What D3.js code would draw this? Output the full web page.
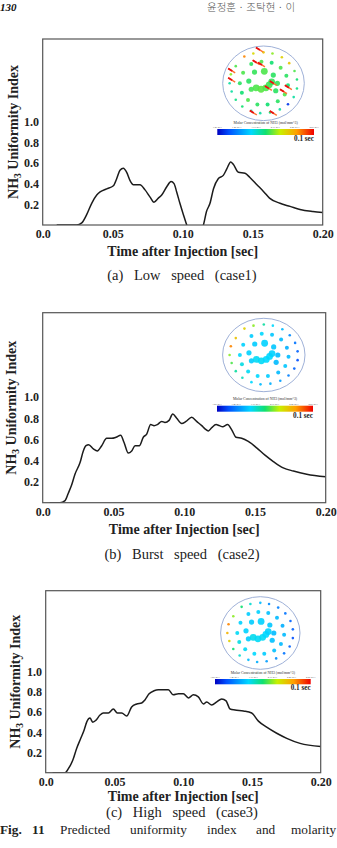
<!DOCTYPE html>
<html>
<head>
<meta charset="utf-8">
<script src="https://cdn.jsdelivr.net/npm/d3@7"></script>
<style>
  body { margin: 0; background: #fff; }
  svg { display: block; }
</style>
</head>
<body>
<div id="fig"></div>
<script>
// ---- data ----
var timeTicks = [0, 0.05, 0.10, 0.15, 0.20];
var timeLabels = ["0.0", "0.05", "0.10", "0.15", "0.20"];
var indexTicks = [0.2, 0.4, 0.6, 0.8, 1.0];
var indexLabels = ["0.2", "0.4", "0.6", "0.8", "1.0"];

// [time (s), NH3 uniformity index]
var case1 = [[0.010,0],[0.0243,0],[0.0279,0.02],[0.0314,0.10],[0.035,0.21],[0.0386,0.29],[0.041,0.32],
  [0.0457,0.35],[0.0505,0.38],[0.0529,0.45],[0.0552,0.53],[0.0576,0.55],[0.060,0.51],[0.0624,0.43],
  [0.0648,0.39],[0.0695,0.39],[0.0731,0.34],[0.0767,0.27],[0.0795,0.22],[0.0826,0.26],[0.085,0.29],
  [0.0886,0.37],[0.0917,0.42],[0.0938,0.40],[0.0957,0.32],[0.098,0.21],[0.1005,0.10],[0.1029,0],
  [0.106,-0.09],[0.109,-0.12],[0.112,-0.09],[0.1148,0],[0.117,0.13],[0.1195,0.21],[0.122,0.35],
  [0.1255,0.45],[0.129,0.48],[0.1314,0.54],[0.1343,0.61],[0.136,0.59],[0.1398,0.51],[0.1445,0.50],
  [0.148,0.46],[0.153,0.39],[0.158,0.32],[0.162,0.26],[0.1695,0.21],[0.1767,0.18],[0.1838,0.15],
  [0.193,0.13],[0.200,0.12]];

var case2 = [[0.005,0],[0.0122,0],[0.0158,0.02],[0.0181,0.09],[0.0205,0.17],[0.0228,0.27],[0.0264,0.38],
  [0.0287,0.49],[0.0306,0.54],[0.0325,0.55],[0.0358,0.51],[0.0386,0.49],[0.0417,0.54],[0.0452,0.61],
  [0.0488,0.61],[0.0518,0.62],[0.0551,0.64],[0.0575,0.57],[0.0605,0.47],[0.0629,0.49],[0.0653,0.54],
  [0.0683,0.54],[0.0711,0.62],[0.0735,0.65],[0.0763,0.74],[0.0787,0.73],[0.081,0.74],[0.0841,0.77],
  [0.0864,0.76],[0.0893,0.78],[0.0919,0.84],[0.0947,0.80],[0.0982,0.75],[0.1013,0.77],[0.1053,0.81],
  [0.1088,0.77],[0.1124,0.73],[0.1147,0.70],[0.1171,0.68],[0.1194,0.71],[0.1225,0.74],[0.1249,0.73],
  [0.1272,0.72],[0.1307,0.74],[0.1336,0.69],[0.1366,0.62],[0.1406,0.61],[0.1453,0.58],[0.1512,0.52],
  [0.1571,0.45],[0.163,0.39],[0.170,0.33],[0.1772,0.30],[0.1866,0.27],[0.200,0.245]];

var case3 = [[0.005,0],[0.0141,0],[0.0165,0.04],[0.0196,0.12],[0.0225,0.24],[0.0255,0.34],[0.0279,0.42],
  [0.0298,0.50],[0.0322,0.54],[0.0342,0.50],[0.0366,0.52],[0.0395,0.57],[0.0419,0.59],[0.0456,0.59],
  [0.0492,0.63],[0.0521,0.59],[0.0553,0.59],[0.0589,0.56],[0.0625,0.65],[0.0662,0.68],[0.0698,0.69],
  [0.0722,0.72],[0.0752,0.78],[0.0788,0.81],[0.0819,0.82],[0.0856,0.82],[0.0892,0.82],[0.0928,0.77],
  [0.0965,0.78],[0.1001,0.78],[0.1038,0.74],[0.1074,0.77],[0.111,0.75],[0.1147,0.68],[0.1171,0.70],
  [0.1207,0.67],[0.1244,0.70],[0.128,0.73],[0.1312,0.71],[0.1341,0.63],[0.1377,0.62],[0.1438,0.61],
  [0.1498,0.59],[0.1547,0.51],[0.1607,0.45],[0.168,0.39],[0.1753,0.34],[0.185,0.29],[0.200,0.26]];

var captions = ["(a) Low speed (case1)", "(b) Burst speed (case2)", "(c) High speed (case3)"];

// inset: injector hole positions, unit circle coords (x right, y down)
var holesOuter = [[-0.47,-0.72],[-0.25,-0.80],[0.0,-0.83],[0.22,-0.80],[0.45,-0.70],[0.63,-0.54],[0.76,-0.33],
  [0.82,-0.10],[0.82,0.14],[0.74,0.37],[0.60,0.56],[0.40,0.70],[0.16,0.78],[-0.08,0.80],[-0.30,0.74],
  [-0.52,0.62],[-0.68,0.44],[-0.78,0.22],[-0.83,0.0],[-0.80,-0.24],[-0.68,-0.46]];
var holesMid = [[-0.30,-0.52],[-0.05,-0.58],[0.20,-0.55],[0.42,-0.42],[0.56,-0.20],[0.60,0.05],[0.52,0.30],
  [0.35,0.48],[0.10,0.57],[-0.15,0.57],[-0.38,0.45],[-0.53,0.25],[-0.58,0.0],[-0.50,-0.28]];
var holesInner = [[-0.22,-0.30],[0.02,-0.32],[0.24,-0.22],[0.34,0.0],[-0.36,-0.06],[-0.30,0.16],[0.30,0.20]];
var holesCore = [[-0.18,0.12],[-0.06,0.16],[0.06,0.12],[0.14,0.04],[0.20,-0.04]];

// molar concentration, 0 = min of colour bar, 1 = max
var conc1Outer = [0.85,0.7,0.75,0.6,0.72,0.75,0.55,0.5,0.48,0.45,0.08,0.45,0.5,0.45,0.45,0.5,0.48,0.45,0.45,0.6,0.55];
var conc1Mid = [0.52,0.55,0.5,0.55,0.52,0.5,0.55,0.52,0.5,0.52,0.55,0.5,0.52,0.55];
var conc1Inner = [0.53,0.55,0.52,0.53,0.52,0.54,0.52];
var conc1Core = [0.55,0.56,0.55,0.54,0.53];
var conc2Outer = [0.72,0.6,0.45,0.35,0.3,0.22,0.18,0.15,0.12,0.15,0.2,0.25,0.28,0.3,0.35,0.42,0.45,0.55,0.6,0.85,0.75];
var conc2Mid = [0.33,0.35,0.32,0.3,0.28,0.3,0.32,0.3,0.33,0.35,0.36,0.38,0.35,0.34];
var conc2Inner = [0.33,0.34,0.32,0.3,0.34,0.33,0.3];
var conc2Core = [0.36,0.36,0.35,0.35,0.34];
var conc3Outer = [0.5,0.4,0.3,0.22,0.2,0.18,0.15,0.15,0.12,0.15,0.18,0.22,0.25,0.28,0.3,0.4,0.5,0.72,0.78,0.85,0.6];
var conc3Mid = [0.33,0.34,0.31,0.3,0.28,0.3,0.3,0.31,0.33,0.35,0.36,0.38,0.36,0.34];
var conc3Inner = [0.33,0.34,0.32,0.3,0.34,0.33,0.31];
var conc3Core = [0.37,0.36,0.36,0.35,0.34];
// spray streaks only visible at 0.1 s for case 1
var sprays1 = [[-0.10,-0.90],[-0.18,-0.56],[-0.05,-0.50],[-0.78,-0.34],[-0.78,-0.09],[0.24,0.0],
  [0.12,0.13],[0.61,0.11],[0.49,0.22],[-0.25,0.79],[0.24,0.80]];
var barTicks = ["1.0e-013","1.4e-013","1.7e-013","2.1e-013","2.4e-013","2.8e-013"];

// ---- layout ----
var W = 337, H = 848;
var serif = "'Liberation Serif', 'Times New Roman', serif";

var panels = [
  { data: case1, left: 42.7, top: 39, right: 322.7, bottom: 225, yTitleX: 17.6, xTitleY: 255.5, capY: 280,
    outer: conc1Outer, mid: conc1Mid, inner: conc1Inner, core: conc1Core, sprays: sprays1,
    cx: 263.5, cy: 83.3, rx: 40.8, ry: 37.3, barX: 217.3, barW: 96.7, barY: 129, barH: 6 },
  { data: case2, left: 42.7, top: 312.7, right: 325.7, bottom: 502.7, yTitleX: 16.4, xTitleY: 533.5, capY: 558.5,
    outer: conc2Outer, mid: conc2Mid, inner: conc2Inner, core: conc2Core, sprays: [],
    cx: 263.8, cy: 355, rx: 41.2, ry: 36.7, barX: 217, barW: 96, barY: 405.7, barH: 6 },
  { data: case3, left: 45.7, top: 590.7, right: 320.7, bottom: 772.7, yTitleX: 19.7, xTitleY: 800.5, capY: 816.5,
    outer: conc3Outer, mid: conc3Mid, inner: conc3Inner, core: conc3Core, sprays: [],
    cx: 260.3, cy: 633, rx: 39.7, ry: 36.3, barX: 215, barW: 95.7, barY: 679, barH: 5.3 }
];

var svg = d3.select("#fig").append("svg").attr("width", W).attr("height", H);
svg.append("rect").attr("width", W).attr("height", H).attr("fill", "#fff");
var defs = svg.append("defs");

var jetStops = [0, 0.12, 0.35, 0.5, 0.65, 0.82, 1];
var jetColors = ["#0000c0", "#0050ff", "#00d8ff", "#10e070", "#c8f000", "#ffa000", "#f00000"];
var jet = d3.scaleLinear().domain(jetStops).range(jetColors);

var grad = defs.append("linearGradient").attr("id", "jet");
jetStops.forEach(function(s, i) {
  grad.append("stop").attr("offset", s).attr("stop-color", jetColors[i]);
});

// ---- running header ----
svg.append("text").attr("x", 0).attr("y", 10.5).attr("font-family", serif)
  .attr("font-weight", "bold").attr("font-style", "italic").attr("font-size", 11).attr("fill", "#111").text("130");
svg.append("text").attr("x", 207).attr("y", 10.5).attr("font-family", "'Noto Sans CJK KR', sans-serif")
  .attr("font-size", 10.5).attr("font-weight", 300).attr("fill", "#555").text("윤정훈 · 조탁현 · 이");

var line = d3.line().curve(d3.curveMonotoneX);

panels.forEach(function(p, k) {
  var x = d3.scaleLinear().domain([0, 0.2]).range([p.left, p.right]);
  var y = d3.scaleLinear().domain([0, 1.8]).range([p.bottom, p.top]);
  var g = svg.append("g");

  defs.append("clipPath").attr("id", "clip" + k).append("rect")
    .attr("x", p.left).attr("y", p.top).attr("width", p.right - p.left).attr("height", p.bottom - p.top);

  // inset: hole concentration map at 0.1 s
  var ix = d3.scaleLinear().domain([-1, 1]).range([p.cx - p.rx, p.cx + p.rx]);
  var iy = d3.scaleLinear().domain([-1, 1]).range([p.cy - p.ry, p.cy + p.ry]);
  var inset = g.append("g");
  inset.append("ellipse").attr("cx", p.cx).attr("cy", p.cy).attr("rx", p.rx).attr("ry", p.ry)
    .attr("fill", "none").attr("stroke", "#9fb1d8").attr("stroke-width", 1);

  var groups = [[holesOuter, p.outer, 1.3], [holesMid, p.mid, 2.0], [holesInner, p.inner, 2.6], [holesCore, p.core, 3.4]];
  groups.forEach(function(gr) {
    inset.selectAll(null).data(gr[0]).enter().append("circle")
      .attr("cx", function(d) { return ix(d[0]); })
      .attr("cy", function(d) { return iy(d[1]); })
      .attr("r", function(d, i) { return (gr[2] === 2.6 && i === 1) ? 3.4 : gr[2]; })
      .attr("fill", function(d, i) { return jet(gr[1][i]); })
      .attr("opacity", 0.9);
  });

  p.sprays.forEach(function(s) {
    var sx = ix(s[0]), sy = iy(s[1]);
    inset.append("line").attr("x1", sx - 3.5).attr("y1", sy - 2.2).attr("x2", sx + 3.5).attr("y2", sy + 2.2)
      .attr("stroke", "#ff7030").attr("stroke-width", 1.4);
    inset.append("line").attr("x1", sx - 3.5).attr("y1", sy - 2.2).attr("x2", sx + 0.5).attr("y2", sy + 0.3)
      .attr("stroke", "#e81010").attr("stroke-width", 1.8);
  });

  inset.append("text").attr("x", p.barX + p.barW / 2).attr("y", p.barY - 5.5)
    .attr("text-anchor", "middle").attr("font-family", serif).attr("font-size", 3.8).attr("fill", "#333")
    .text("Molar Concentration of NH3 (mol/mm^3)");
  var bx = d3.scalePoint().domain(barTicks).range([p.barX, p.barX + p.barW]);
  inset.selectAll(null).data(barTicks).enter().append("text")
    .attr("x", function(d) { return bx(d); }).attr("y", p.barY - 1.2)
    .attr("text-anchor", "middle").attr("font-family", serif).attr("font-size", 2.6).attr("fill", "#444")
    .text(function(d) { return d; });
  inset.append("rect").attr("x", p.barX).attr("y", p.barY).attr("width", p.barW).attr("height", p.barH)
    .attr("fill", "url(#jet)");
  inset.append("text").attr("x", p.barX + p.barW).attr("y", p.barY + p.barH + 6)
    .attr("text-anchor", "end").attr("font-family", serif).attr("font-weight", "bold")
    .attr("font-size", 7.2).attr("fill", "#222").text("0.1 sec");

  // uniformity curve
  g.append("path").datum(p.data)
    .attr("clip-path", "url(#clip" + k + ")")
    .attr("d", line.x(function(d) { return x(d[0]); }).y(function(d) { return y(d[1]); }))
    .attr("fill", "none").attr("stroke", "#1c1c1c").attr("stroke-width", 1.5);

  g.append("rect").attr("x", p.left).attr("y", p.top)
    .attr("width", p.right - p.left).attr("height", p.bottom - p.top)
    .attr("fill", "none").attr("stroke", "#555").attr("stroke-width", 1.2);

  var xa = g.append("g").attr("transform", "translate(0," + p.bottom + ")")
    .call(d3.axisBottom(x).tickValues(timeTicks).tickSize(0).tickPadding(4.3)
      .tickFormat(function(d, i) { return timeLabels[i]; }));
  xa.select(".domain").remove();
  xa.selectAll("text").attr("font-family", serif).attr("font-weight", "bold")
    .attr("font-size", 12).attr("fill", "#222");

  var ya = g.append("g").attr("transform", "translate(" + p.left + ",0)")
    .call(d3.axisLeft(y).tickValues(indexTicks).tickSize(0).tickPadding(3.8)
      .tickFormat(function(d, i) { return indexLabels[i]; }));
  ya.select(".domain").remove();
  ya.selectAll("text").attr("font-family", serif).attr("font-weight", "bold")
    .attr("font-size", 12).attr("fill", "#222");

  g.append("text").attr("x", (p.left + p.right) / 2).attr("y", p.xTitleY)
    .attr("text-anchor", "middle").attr("font-family", serif).attr("font-weight", "bold")
    .attr("font-size", 14).attr("fill", "#222").text("Time after Injection [sec]");

  var yt = g.append("text")
    .attr("transform", "translate(" + p.yTitleX + "," + ((p.top + p.bottom) / 2) + ") rotate(-90)")
    .attr("text-anchor", "middle").attr("font-family", serif).attr("font-weight", "bold")
    .attr("font-size", 14).attr("fill", "#222");
  yt.append("tspan").text("NH");
  yt.append("tspan").attr("font-size", 9.5).attr("dy", 3).text("3");
  yt.append("tspan").attr("dy", -3).text(" Uniformity Index");

  svg.append("text").attr("x", 182).attr("y", p.capY).attr("text-anchor", "middle")
    .attr("font-family", serif).attr("font-size", 14.5).attr("word-spacing", 7).attr("fill", "#222")
    .text(captions[k]);
});

// ---- figure caption (justified line) ----
var capWords = [["Fig.", 0, true], ["11", 32, true], ["Predicted", 60, false], ["uniformity", 130, false],
  ["index", 207, false], ["and", 256, false], ["molarity", 291, false]];
svg.selectAll(null).data(capWords).enter().append("text")
  .attr("x", function(d) { return d[1]; }).attr("y", 834)
  .attr("font-family", serif).attr("font-size", 13.3).attr("fill", "#222")
  .attr("font-weight", function(d) { return d[2] ? "bold" : "normal"; })
  .text(function(d) { return d[0]; });
</script>
</body>
</html>
